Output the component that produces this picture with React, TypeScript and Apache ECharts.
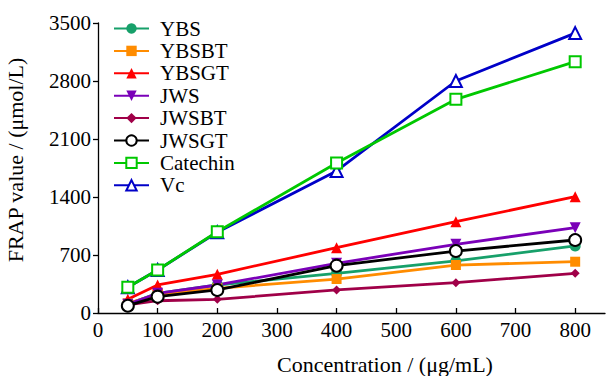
import React, { useEffect, useRef } from "react";
import * as echarts from "echarts";

const concentrations = [50, 100, 200, 400, 600, 800];
const seriesNames = ["YBS", "YBSBT", "YBSGT", "JWS", "JWSBT", "JWSGT", "Catechin", "Vc"];
const YBS = [109, 238, 338, 479, 628, 809];
const YBSBT = [118, 226, 298, 410, 579, 619];
const YBSGT = [165, 338, 467, 788, 1102, 1404];
const JWS = [105, 238, 338, 600, 829, 1030];
const JWSBT = [97, 148, 165, 278, 366, 479];
const JWSGT = [88, 197, 278, 571, 748, 881];
const Catechin = [310, 519, 981, 1810, 2579, 3033];
const Vc = [310, 519, 975, 1714, 2800, 3378];
const xTicks = [0, 100, 200, 300, 400, 500, 600, 700, 800];
const yTicks = [0, 700, 1400, 2100, 2800, 3500];

const values = [YBS, YBSBT, YBSGT, JWS, JWSBT, JWSGT, Catechin, Vc];
const colors = ["#17a06a", "#ff8c00", "#ff0000", "#7a00b8", "#a00048", "#000000", "#00c800", "#0000c8"];
const symbols = ["circle", "rect", "triangle", "triangle", "diamond", "emptyCircle", "emptyRect", "emptyTriangle"];
const rotates = [0, 0, 0, 180, 0, 0, 0, 0];
const sizes = [11, 10, 11, 11, 9, 12, 11, 12];

const FONT = "Liberation Serif";

export default function App() {
  const ref = useRef<HTMLDivElement>(null);
  useEffect(() => {
    if (!ref.current) return;
    const chart = echarts.init(ref.current, null, { renderer: "svg" });
    chart.setOption({
      animation: false,
      backgroundColor: "#fff",
      textStyle: { fontFamily: FONT },
      grid: { left: 98, right: 4, top: 23, bottom: 63, containLabel: false },
      legend: {
        orient: "vertical",
        left: 108,
        top: 13,
        itemWidth: 35,
        itemHeight: 13,
        itemGap: 1.4,
        data: seriesNames,
        textStyle: { fontFamily: FONT, fontSize: 21, color: "#000", lineHeight: 21, padding: [0, 0, 0, 6] },
      },
      xAxis: {
        type: "value",
        min: 0,
        max: 850,
        interval: 100,
        axisLine: { lineStyle: { color: "#000", width: 1.3 } },
        axisTick: { inside: true, length: 5, lineStyle: { color: "#000", width: 1.3 }, customValues: xTicks },
        axisLabel: { fontFamily: FONT, fontSize: 21, color: "#000", margin: 6, customValues: xTicks, formatter: (v: number) => String(v) },
        splitLine: { show: false },
      },
      yAxis: {
        type: "value",
        min: 0,
        max: 3500,
        interval: 700,
        axisLine: { show: true, lineStyle: { color: "#000", width: 1.3 } },
        axisTick: { show: true, inside: false, length: 5, lineStyle: { color: "#000", width: 1.3 }, customValues: yTicks },
        axisLabel: { fontFamily: FONT, fontSize: 21, color: "#000", margin: 7, customValues: yTicks, formatter: (v: number) => String(v) },
        splitLine: { show: false },
      },
      graphic: [
        {
          type: "text",
          x: 385,
          y: 364,
          style: {
            text: "Concentration / (μg/mL)",
            fontFamily: FONT,
            fontSize: 22,
            fill: "#000",
            textAlign: "center",
            textVerticalAlign: "middle",
          },
        },
        {
          type: "text",
          x: 15,
          y: 160,
          rotation: Math.PI / 2,
          style: {
            text: "FRAP value / (μmol/L)",
            fontFamily: FONT,
            fontSize: 22,
            fill: "#000",
            textAlign: "center",
            textVerticalAlign: "middle",
          },
        },
      ],
      series: seriesNames.map((name, i) => ({
        name,
        type: "line",
        data: concentrations.map((c, j) => [c, values[i][j]]),
        symbol: symbols[i],
        symbolSize: sizes[i],
        symbolRotate: rotates[i],
        z: name === "Catechin" ? 3 : 2,
        lineStyle: { color: colors[i], width: 2.8 },
        itemStyle: {
          color: colors[i],
          borderColor: colors[i],
          borderWidth: symbols[i].startsWith("empty") ? 2.6 : 0,
        },
        emphasis: { disabled: true },
      })),
    });
    return () => chart.dispose();
  }, []);
  return <div ref={ref} style={{ width: 609, height: 376, position: "absolute", left: 0, top: 0 }} />;
}
